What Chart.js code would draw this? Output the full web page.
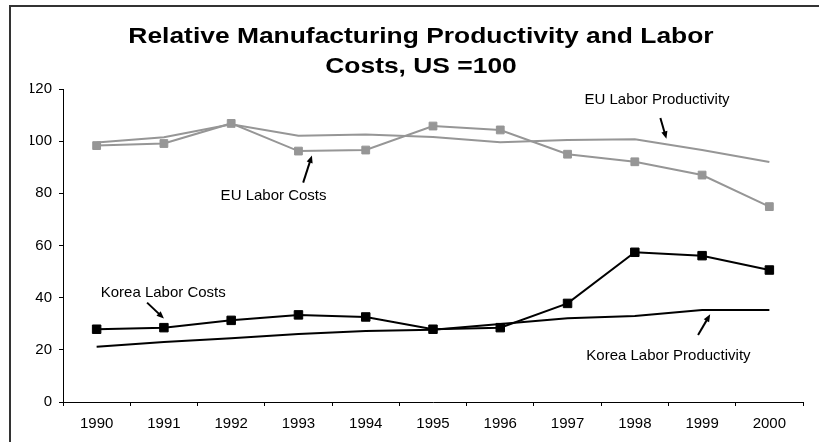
<!DOCTYPE html>
<html>
<head>
<meta charset="utf-8">
<script src="https://cdn.jsdelivr.net/npm/chart.js@4.4.1/dist/chart.umd.min.js"></script>
<style>
  html, body { margin: 0; padding: 0; background: #fff; overflow: hidden; }
  #wrap { position: relative; width: 819px; height: 442px; }
  #frame {
    position: absolute; left: 9px; top: 5px; width: 900px; height: 500px;
    border-top: 2px solid #333; border-left: 2px solid #333; pointer-events: none;
  }
</style>
</head>
<body>
<div id="wrap">
  <canvas id="myChart" width="819" height="442"></canvas>
  <div id="frame"></div>
</div>
<script>
// years on the x axis
var years = ['1990', '1991', '1992', '1993', '1994', '1995', '1996', '1997', '1998', '1999', '2000'];

// index values, US = 100
var euProductivity = [99.5, 101.5, 106.5, 102.1, 102.6, 101.6, 99.6, 100.4, 100.7, 96.6, 92.0];
var euLaborCosts = [98.3, 99.1, 106.8, 96.2, 96.6, 105.8, 104.3, 95.0, 92.1, 87.0, 74.9];
var koreaLaborCosts = [27.9, 28.5, 31.3, 33.4, 32.6, 27.9, 28.5, 37.8, 57.4, 56.1, 50.6];
var koreaProductivity = [21.2, 23.0, 24.4, 26.1, 27.2, 27.7, 29.9, 32.1, 33.0, 35.3, 35.3];

var titleLines = ['Relative Manufacturing Productivity and Labor', 'Costs, US =100'];

var GREY = '#969696';
var FONT = "'Liberation Sans', Arial, sans-serif";

// text labels with arrows, placed in data units (category index, value)
var notes = [
    { text: 'EU Labor Productivity', x: 8.33, y: 115.9, from: [8.38, 108.9], to: [8.47, 100.9] },
    { text: 'EU Labor Costs', x: 2.63, y: 79.0, from: [3.07, 84.1], to: [3.2, 94.5] },
    { text: 'Korea Labor Costs', x: 0.99, y: 42.0, from: [0.75, 38.1], to: [1.0, 32.0] },
    { text: 'Korea Labor Productivity', x: 8.5, y: 17.6, from: [8.94, 25.7], to: [9.12, 33.6] }
];

// wide bold title, two centred lines
var titlePlugin = {
    id: 'wideTitle',
    afterDraw: function (chart) {
        var ctx = chart.ctx;
        var cx = 421;
        var baselines = [43, 73];
        ctx.save();
        ctx.fillStyle = '#000';
        ctx.font = 'bold 22px ' + FONT;
        ctx.textAlign = 'center';
        ctx.textBaseline = 'alphabetic';
        titleLines.forEach(function (t, i) {
            ctx.save();
            ctx.translate(cx, baselines[i]);
            ctx.scale(1.2, 1);
            ctx.fillText(t, 0, 0);
            ctx.restore();
        });
        ctx.restore();
    }
};

var notesPlugin = {
    id: 'notes',
    afterDatasetsDraw: function (chart) {
        var ctx = chart.ctx;
        var xs = chart.scales.x, ys = chart.scales.y;
        ctx.save();
        ctx.fillStyle = '#000';
        ctx.strokeStyle = '#000';
        ctx.font = '15px ' + FONT;
        ctx.textAlign = 'center';
        ctx.textBaseline = 'middle';
        notes.forEach(function (n) {
            ctx.fillText(n.text, xs.getPixelForValue(n.x), ys.getPixelForValue(n.y));
            var x1 = xs.getPixelForValue(n.from[0]), y1 = ys.getPixelForValue(n.from[1]);
            var x2 = xs.getPixelForValue(n.to[0]), y2 = ys.getPixelForValue(n.to[1]);
            var ang = Math.atan2(y2 - y1, x2 - x1);
            var head = 8;
            ctx.lineWidth = 2;
            ctx.beginPath();
            ctx.moveTo(x1, y1);
            ctx.lineTo(x2 - Math.cos(ang) * head * 0.8, y2 - Math.sin(ang) * head * 0.8);
            ctx.stroke();
            ctx.beginPath();
            ctx.moveTo(x2, y2);
            ctx.lineTo(x2 - head * Math.cos(ang - 0.4), y2 - head * Math.sin(ang - 0.4));
            ctx.lineTo(x2 - head * Math.cos(ang + 0.4), y2 - head * Math.sin(ang + 0.4));
            ctx.closePath();
            ctx.fill();
        });
        ctx.restore();
    }
};

var ctx = document.getElementById('myChart').getContext('2d');
var chart = new Chart(ctx, {
    type: 'line',
    data: {
        labels: years,
        datasets: [{
            label: 'EU Labor Productivity',
            data: euProductivity,
            borderColor: GREY,
            borderWidth: 2,
            pointRadius: 0,
            tension: 0
        }, {
            label: 'EU Labor Costs',
            data: euLaborCosts,
            borderColor: GREY,
            backgroundColor: GREY,
            borderWidth: 2,
            pointStyle: 'rect',
            pointRadius: 5.5,
            pointBorderWidth: 1,
            tension: 0
        }, {
            label: 'Korea Labor Productivity',
            data: koreaProductivity,
            borderColor: '#000',
            borderWidth: 2,
            pointRadius: 0,
            tension: 0
        }, {
            label: 'Korea Labor Costs',
            data: koreaLaborCosts,
            borderColor: '#000',
            backgroundColor: '#000',
            borderWidth: 2,
            pointStyle: 'rect',
            pointRadius: 6,
            pointBorderWidth: 1,
            tension: 0
        }]
    },
    options: {
        responsive: false,
        animation: false,
        layout: { padding: { left: 30, right: 16, top: 89, bottom: 0 } },
        plugins: {
            legend: { display: false },
            tooltip: { enabled: false },
            title: { display: false }
        },
        scales: {
            x: {
                offset: true,
                grid: { offset: true, drawOnChartArea: false, tickLength: 4, color: '#000' },
                border: { color: '#000', width: 1 },
                ticks: { color: '#000', font: { family: FONT, size: 15 }, padding: 9, maxRotation: 0 },
                afterFit: function (scale) { scale.height = 40; }
            },
            y: {
                min: 0,
                max: 120,
                ticks: { stepSize: 20, color: '#000', font: { family: FONT, size: 15 }, padding: 7 },
                grid: { drawOnChartArea: false, tickLength: 4, color: '#000' },
                border: { color: '#000', width: 1 },
                afterFit: function (scale) { scale.width = 33; }
            }
        }
    },
    plugins: [notesPlugin, titlePlugin]
});
</script>
</body>
</html>
